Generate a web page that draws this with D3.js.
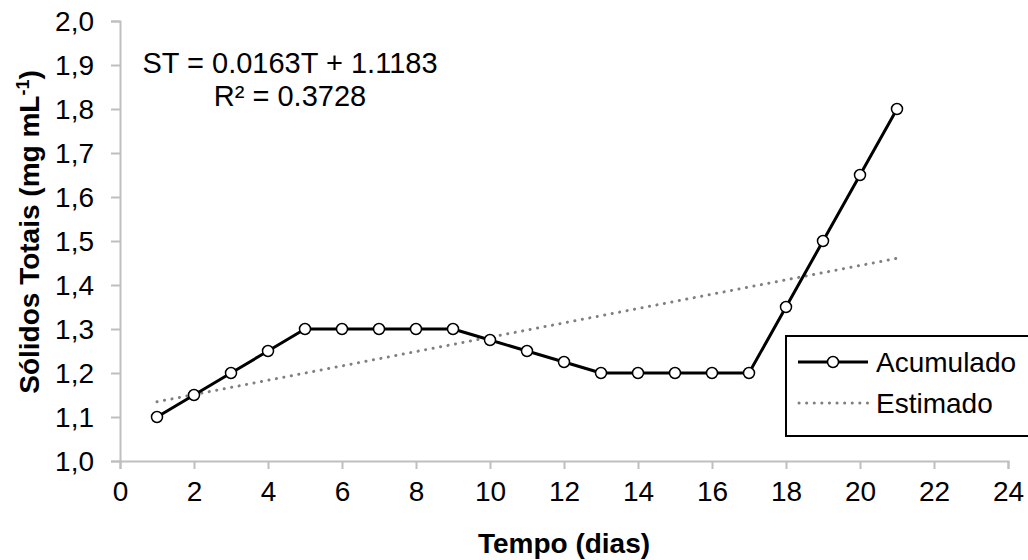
<!DOCTYPE html>
<html>
<head>
<meta charset="utf-8">
<script src="https://cdn.jsdelivr.net/npm/d3@7"></script>
<style>
  body { margin: 0; background: #fff; }
  text { font-family: "Liberation Sans", Arial, sans-serif; fill: #000; }
</style>
</head>
<body>
<div id="chart"></div>
<script>
// Tempo (dias) and accumulated total solids
var days = [1, 2, 3, 4, 5, 6, 7, 8, 9, 10, 11, 12, 13, 14, 15, 16, 17, 18, 19, 20, 21];
var solids = [1.10, 1.15, 1.20, 1.25, 1.30, 1.30, 1.30, 1.30, 1.30, 1.275, 1.25, 1.225, 1.20, 1.20, 1.20, 1.20, 1.20, 1.35, 1.50, 1.65, 1.80];
// linear fit ST = a*T + b
var slope = 0.0163;
var intercept = 1.1183;
var xTicks = [0, 2, 4, 6, 8, 10, 12, 14, 16, 18, 20, 22, 24];
var yTicks = [1.0, 1.1, 1.2, 1.3, 1.4, 1.5, 1.6, 1.7, 1.8, 1.9, 2.0];

var W = 1028, H = 560;
var margin = { top: 21, right: 20, bottom: 99, left: 120 };
var width = W - margin.left - margin.right;
var height = H - margin.top - margin.bottom;

var root = d3.select("#chart").append("svg")
    .attr("width", W)
    .attr("height", H);

var svg = root.append("g")
    .attr("transform", "translate(" + margin.left + "," + margin.top + ")");

var x = d3.scaleLinear().domain([0, 24]).range([0, width]);
var y = d3.scaleLinear().domain([1.0, 2.0]).range([height, 0]);

var fmt = function (d) { return d3.format(".1f")(d).replace(".", ","); };

// Y axis
var yAxis = svg.append("g")
    .call(d3.axisLeft(y).tickValues(yTicks).tickFormat(fmt).tickSize(9).tickPadding(17));
yAxis.selectAll("text").attr("font-size", "28px").attr("fill", "#000").attr("dy", "0.35em");

// X axis
var xAxis = svg.append("g")
    .attr("transform", "translate(0," + height + ")")
    .call(d3.axisBottom(x).tickValues(xTicks).tickSize(8).tickPadding(12));
xAxis.selectAll("text").attr("font-size", "28px").attr("fill", "#000");

root.selectAll(".domain, .tick line")
    .attr("stroke", "#bfbfbf")
    .attr("stroke-width", 2);

// Trend line (Estimado)
var trend = [days[0], days[days.length - 1]].map(function (t) {
    return { t: t, v: slope * t + intercept };
});
svg.append("path")
    .datum(trend)
    .attr("fill", "none")
    .attr("stroke", "#808080")
    .attr("stroke-width", 3)
    .attr("stroke-linecap", "round")
    .attr("stroke-dasharray", "0.1,7.5")
    .attr("d", d3.line().x(function (d) { return x(d.t); }).y(function (d) { return y(d.v); }));

// Acumulado line
var data = days.map(function (d, i) { return { t: d, v: solids[i] }; });
svg.append("path")
    .datum(data)
    .attr("fill", "none")
    .attr("stroke", "#000")
    .attr("stroke-width", 3)
    .attr("stroke-linejoin", "round")
    .attr("d", d3.line().x(function (d) { return x(d.t); }).y(function (d) { return y(d.v); }));

svg.selectAll("circle.pt")
    .data(data)
    .enter().append("circle")
    .attr("class", "pt")
    .attr("cx", function (d) { return x(d.t); })
    .attr("cy", function (d) { return y(d.v); })
    .attr("r", 5.5)
    .attr("fill", "#fff")
    .attr("stroke", "#000")
    .attr("stroke-width", 1.5);

// Equation
root.append("text")
    .attr("x", 290).attr("y", 73)
    .attr("text-anchor", "middle")
    .attr("font-size", "29px")
    .text("ST = 0.0163T + 1.1183");
root.append("text")
    .attr("x", 290).attr("y", 106)
    .attr("text-anchor", "middle")
    .attr("font-size", "29px")
    .text("R² = 0.3728");

// Axis titles
root.append("text")
    .attr("x", margin.left + width / 2)
    .attr("y", 553)
    .attr("text-anchor", "middle")
    .attr("font-size", "28px")
    .attr("font-weight", "bold")
    .text("Tempo (dias)");

var yt = root.append("text")
    .attr("transform", "translate(39,232) rotate(-90)")
    .attr("text-anchor", "middle")
    .attr("font-size", "28px")
    .attr("font-weight", "bold");
yt.append("tspan").text("Sólidos Totais (mg mL");
yt.append("tspan").attr("font-size", "18px").attr("dy", -10).text("-1");
yt.append("tspan").attr("dy", 10).text(")");

// Legend
var lg = root.append("g").attr("transform", "translate(786,336)");
lg.append("rect")
    .attr("width", 260).attr("height", 100)
    .attr("fill", "#fff")
    .attr("stroke", "#000")
    .attr("stroke-width", 2);
lg.append("line")
    .attr("x1", 12).attr("x2", 82).attr("y1", 26).attr("y2", 26)
    .attr("stroke", "#000").attr("stroke-width", 3);
lg.append("circle")
    .attr("cx", 47).attr("cy", 26).attr("r", 5.5)
    .attr("fill", "#fff").attr("stroke", "#000").attr("stroke-width", 1.5);
lg.append("text").attr("x", 90).attr("y", 36).attr("font-size", "28px").text("Acumulado");
lg.append("line")
    .attr("x1", 13).attr("x2", 82).attr("y1", 67).attr("y2", 67)
    .attr("stroke", "#808080").attr("stroke-width", 3)
    .attr("stroke-linecap", "round").attr("stroke-dasharray", "0.1,7.5");
lg.append("text").attr("x", 90).attr("y", 77).attr("font-size", "28px").text("Estimado");
</script>
</body>
</html>
